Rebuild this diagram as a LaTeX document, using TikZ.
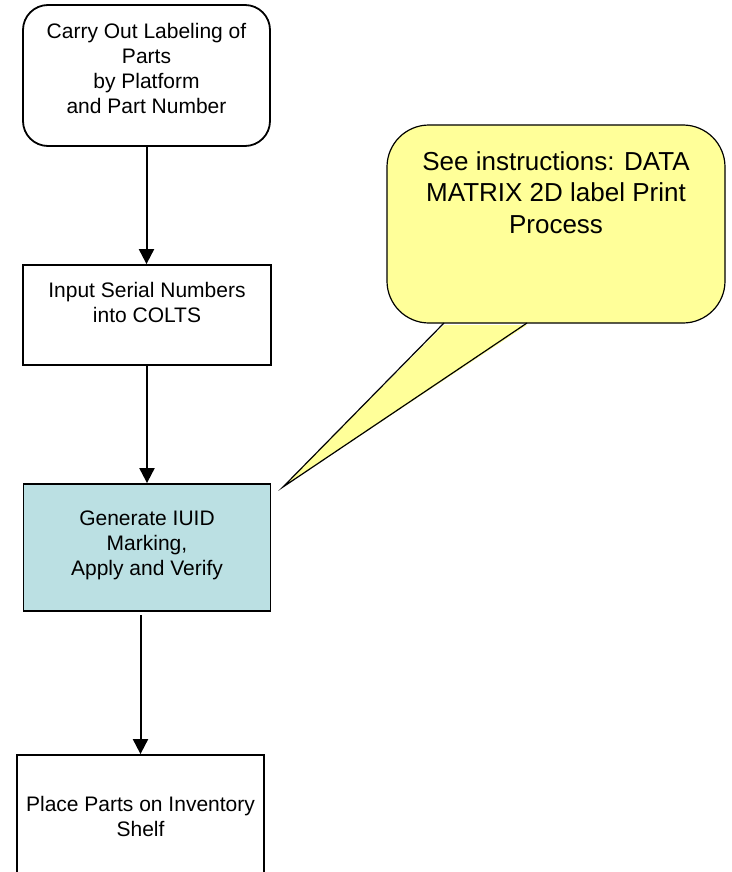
\documentclass[tikz,border=0pt]{standalone}
\usepackage{fontspec}
\setmainfont{Liberation Sans}
\usetikzlibrary{arrows.meta}
\definecolor{boxblue}{RGB}{187,224,227}
\definecolor{noteyellow}{RGB}{255,255,153}
\begin{document}
\begin{tikzpicture}[x=1pt,y=-1pt,
  box/.style={draw,line width=1.8pt,inner sep=0pt},
  txt/.style={align=center,font=\fontsize{21}{25}\selectfont,inner sep=0pt},
  arr/.style={line width=2pt,-{Triangle[length=15pt,width=15pt]}},
  notebox/.style={draw,line width=1.2pt,fill=noteyellow,rounded corners=42pt,inner sep=0pt},
  notetxt/.style={align=center,font=\fontsize{26}{31.5}\selectfont,inner sep=0pt}]
\useasboundingbox (0,0) rectangle (731,872);
\clip (0,0) rectangle (731,872);
% process boxes
\node[box,rounded corners=25pt,minimum width=247pt,minimum height=141pt] (b1) at (146.5,75.5) {};
\node[txt] (t1) at (146.5,68) {Carry Out Labeling of\\Parts\\by Platform\\and Part Number};
\node[box,minimum width=248pt,minimum height=100pt] (b2) at (147,315) {};
\node[txt] (t2) at (147,302) {Input Serial Numbers\\into COLTS};
\node[box,fill=boxblue,minimum width=247pt,minimum height=127pt] (b3) at (147,547.5) {};
\node[txt] (t3) at (147,545.5) {Generate IUID\\Marking,\\Apply and Verify};
\node[box,minimum width=247pt,minimum height=125pt] (b4) at (140.5,817.5) {};
\node[txt] (t4) at (140.5,816.5) {Place Parts on Inventory\\Shelf};
% connectors
\draw[arr] (b1.south) -- (b1.south |- b2.north);
\draw[arr] (b2.south) -- (b3.north);
\coordinate (a3) at (140.5,615);
\draw[arr] (a3) -- (b4.north);
% callout
\node[notebox,minimum width=338pt,minimum height=198pt] (c) at (556,224) {};
\coordinate (p1) at (444,323);
\coordinate (tip) at (283,487);
\coordinate (p2) at (527,323);
\fill[noteyellow] ([yshift=-2pt]p1) -- (tip) -- ([yshift=-2pt]p2) -- cycle;
\draw[line width=1.2pt,line join=miter] (p1) -- (tip) -- (p2);
\node[notetxt] (ct) at (556,192.5) {See instructions: DATA\\MATRIX 2D label Print\\Process};
\end{tikzpicture}
\end{document}
